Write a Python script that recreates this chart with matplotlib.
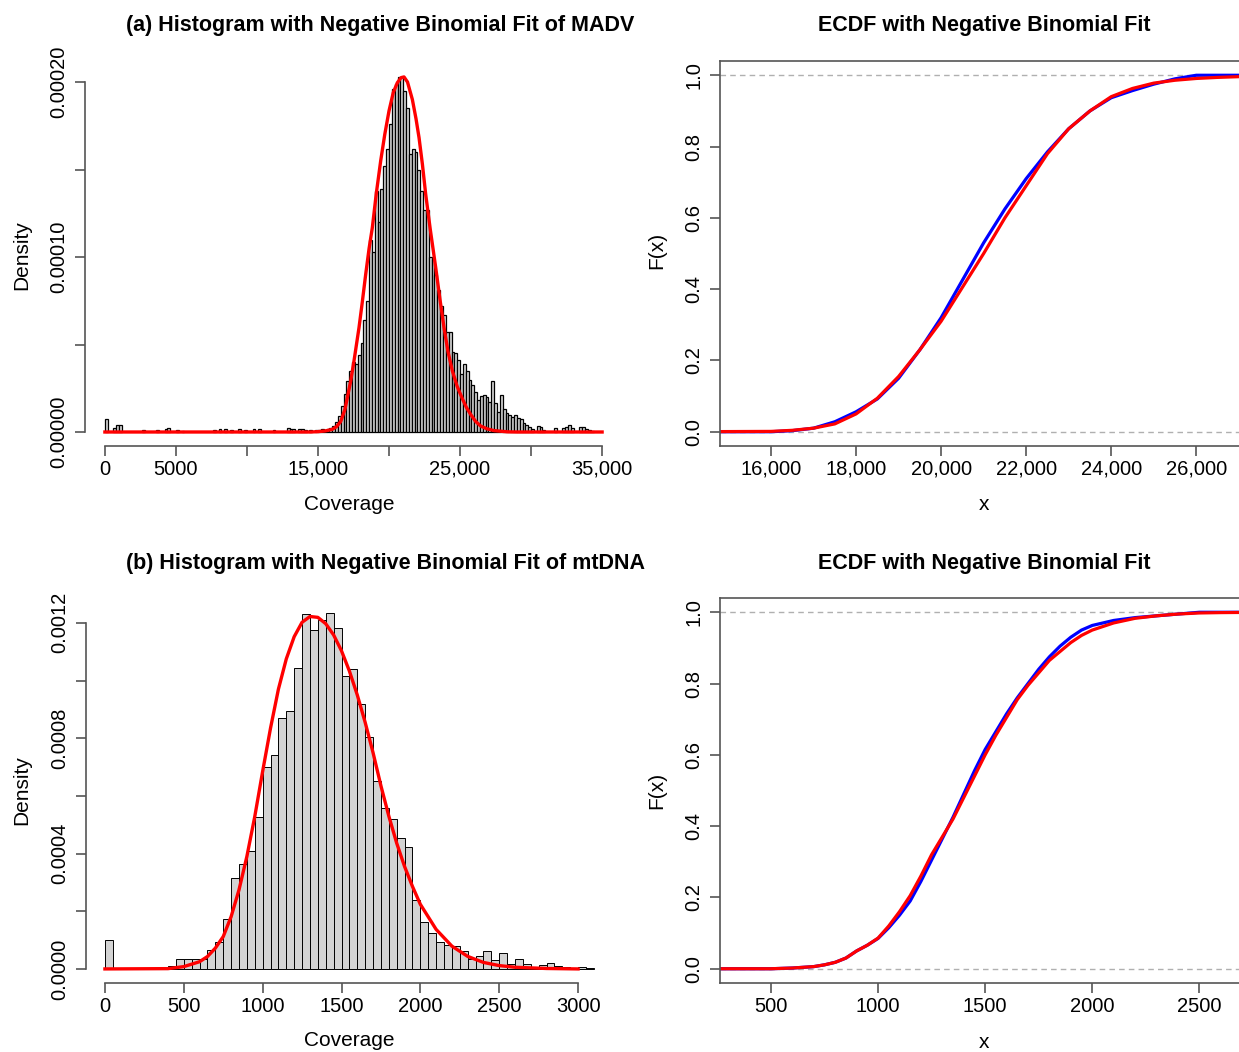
import numpy as np
import matplotlib.pyplot as plt

plt.rcParams['font.family'] = ['Liberation Sans', 'DejaVu Sans']

# ---- (a) MADV coverage: histogram bins (left edge, width 200) that are not empty
madv_bin_width = 200
madv_bin_left = [0, 600, 800, 1000, 2600, 3600, 4200, 4400, 5000, 5400,
                 7600, 8000, 8400, 8800, 9400, 9800, 10400, 10800, 11800,
                 12800, 13000, 13200, 13600, 13800, 14000, 14400, 14800,
                 15000, 15200, 15400, 15600, 15800, 16000, 16200, 16400, 16600, 16800,
                 17000, 17200, 17400, 17600, 17800, 18000, 18200, 18400, 18600, 18800,
                 19000, 19200, 19400, 19600, 19800, 20000, 20200, 20400, 20600, 20800,
                 21000, 21200, 21400, 21600, 21800, 22000, 22200, 22400, 22600, 22800,
                 23000, 23200, 23400, 23600, 23800, 24000, 24200, 24400, 24600, 24800,
                 25000, 25200, 25400, 25600, 25800, 26000, 26200, 26400, 26600, 26800,
                 27000, 27200, 27400, 27600, 27800, 28000, 28200, 28400, 28600, 28800,
                 29000, 29200, 29400, 29600, 29800, 30000, 30400, 30600, 30800,
                 31600, 32200, 32400, 32600, 32800, 33400, 33600, 33800, 34000, 34200]
madv_density = [7.4e-6, 2.5e-6, 3.8e-6, 4.2e-6, 1.0e-6, 1.0e-6, 2.0e-6, 2.5e-6, 1.0e-6, 0.8e-6,
                1.0e-6, 1.5e-6, 1.5e-6, 1.0e-6, 1.9e-6, 1.0e-6, 1.5e-6, 1.9e-6, 1.0e-6,
                2.5e-6, 1.5e-6, 1.7e-6, 1.9e-6, 1.5e-6, 1.2e-6, 1.0e-6, 1.0e-6,
                1.0e-6, 1.5e-6, 1.0e-6, 2.0e-6, 2.5e-6, 3.5e-6, 5.5e-6, 9.0e-6, 1.5e-5, 2.2e-5,
                2.9e-5, 3.5e-5, 4.0e-5, 3.9e-5, 4.4e-5, 5.1e-5, 6.4e-5, 7.5e-5, 1.10e-4, 1.03e-4,
                1.38e-4, 1.20e-4, 1.39e-4, 1.52e-4, 1.62e-4, 1.76e-4, 1.96e-4, 1.99e-4, 2.03e-4, 2.03e-4,
                1.95e-4, 1.85e-4, 1.59e-4, 1.62e-4, 1.60e-4, 1.50e-4, 1.38e-4, 1.27e-4, 1.27e-4, 1.00e-4,
                9.9e-5, 9.0e-5, 8.1e-5, 7.2e-5, 6.7e-5, 5.7e-5, 5.7e-5, 4.6e-5, 4.5e-5, 4.1e-5,
                3.3e-5, 3.9e-5, 3.5e-5, 3.0e-5, 2.7e-5, 2.3e-5, 1.83e-5, 2.06e-5, 2.1e-5, 2.0e-5,
                1.7e-5, 2.9e-5, 1.64e-5, 1.16e-5, 2.1e-5, 1.3e-5, 1.07e-5, 9.7e-6, 8.8e-6, 9.9e-6,
                7.8e-6, 7.2e-6, 5.0e-6, 4.2e-6, 3.0e-6, 1.9e-6, 3.4e-6, 3.0e-6, 1.0e-6,
                2.1e-6, 2.1e-6, 2.7e-6, 4.0e-6, 2.1e-6, 2.7e-6, 2.7e-6, 1.9e-6, 1.1e-6, 0.5e-6]

# fitted negative binomial density
madv_fit_x = [0, 14500, 15000, 15500, 16000, 16300, 16600, 16900, 17100, 17300, 17535, 17887,
              18100, 18357, 18600, 18826, 19100, 19413, 19700, 20000, 20300, 20587, 20850,
              21056, 21300, 21643, 21900, 22113, 22350, 22582, 22900, 23286, 23600, 23873,
              24150, 24460, 24800, 25164, 25450, 25751, 26100, 26455, 26900, 27394, 28333,
              29000, 35000]
madv_fit_y = [0, 0, 2e-7, 6e-7, 1.5e-6, 3e-6, 6e-6, 1.3e-5, 2.1e-5, 2.9e-5, 4.06e-5, 5.96e-5,
              7.3e-5, 9.0e-5, 1.05e-4, 1.168e-4, 1.36e-4, 1.549e-4, 1.70e-4, 1.835e-4, 1.94e-4,
              1.996e-4, 2.025e-4, 2.029e-4, 2.0e-4, 1.90e-4, 1.79e-4, 1.682e-4, 1.53e-4, 1.358e-4,
              1.16e-4, 9.4e-5, 7.5e-5, 5.96e-5, 4.6e-5, 3.49e-5, 2.6e-5, 1.9e-5, 1.4e-5, 1.0e-5,
              6.0e-6, 3.4e-6, 1.8e-6, 8e-7, 1e-7, 0, 0]

# ECDF (blue) and fitted CDF (red), MADV
madv_ecdf_x = [14000, 16000, 16500, 17000, 17500, 18000, 18500, 19000, 19500, 20000, 20500,
               21000, 21500, 22000, 22500, 23000, 23500, 24000, 24500, 25000, 25500, 26000, 28000]
madv_ecdf_y = [0, 0.0, 0.003, 0.01, 0.028, 0.056, 0.092, 0.15, 0.23, 0.32, 0.425,
               0.53, 0.625, 0.71, 0.785, 0.85, 0.9, 0.937, 0.957, 0.975, 0.99, 1.0, 1.0]
madv_cdf_x = [14000, 16000, 16500, 17000, 17500, 18000, 18500, 19000, 19500, 20000, 20500,
              21000, 21500, 22000, 22500, 23000, 23500, 24000, 24500, 25000, 25500, 26000,
              26500, 27000, 28000]
madv_cdf_y = [0, 0.001, 0.004, 0.01, 0.022, 0.05, 0.094, 0.155, 0.23, 0.31, 0.405,
              0.5, 0.6, 0.69, 0.78, 0.85, 0.9, 0.94, 0.963, 0.978, 0.986, 0.991,
              0.994, 0.996, 0.998]

# ---- (b) mtDNA coverage: histogram bins of width 50
mt_bin_width = 50
mt_bin_left = [0, 400, 450, 500, 550, 600, 650, 700, 750, 800, 850, 900, 950,
               1000, 1050, 1100, 1150, 1200, 1250, 1300, 1350, 1400, 1450, 1500, 1550,
               1600, 1650, 1700, 1750, 1800, 1850, 1900, 1950, 2000, 2050, 2100, 2150,
               2200, 2250, 2300, 2350, 2400, 2450, 2500, 2550, 2600, 2650, 2700, 2750,
               2800, 2850, 2900, 2950, 3000, 3050]
mt_density = [1.01e-4, 1.16e-5, 3.58e-5, 3.47e-5, 3.58e-5, 3.35e-5, 6.59e-5, 9.48e-5, 1.72e-4,
              3.14e-4, 3.65e-4, 4.08e-4, 5.28e-4,
              6.99e-4, 7.41e-4, 8.70e-4, 8.94e-4, 1.044e-3, 1.231e-3, 1.175e-3, 1.21e-3, 1.233e-3,
              1.183e-3, 1.016e-3, 1.04e-3,
              9.17e-4, 8.05e-4, 6.52e-4, 5.57e-4, 5.20e-4, 4.55e-4, 4.24e-4, 2.39e-4, 1.63e-4,
              1.24e-4, 9.48e-5, 8.32e-5,
              8.09e-5, 6.36e-5, 3.47e-5, 4.62e-5, 6.36e-5, 3.12e-5, 5.66e-5, 1.62e-5, 3.35e-5,
              1.62e-5, 8.1e-6, 1.39e-5,
              2.2e-5, 1.16e-5, 5.8e-6, 3.5e-6, 5.8e-6, 2.3e-6]

mt_fit_x = [0, 400, 500, 600, 650, 700, 750, 800, 850, 900, 950, 1000, 1050, 1100, 1150,
            1200, 1250, 1300, 1350, 1400, 1450, 1500, 1550, 1600, 1650, 1700, 1750, 1800,
            1850, 1900, 1950, 2000, 2100, 2200, 2300, 2400, 2500, 2600, 2800, 3000]
mt_fit_y = [0, 1e-6, 8e-6, 2.5e-5, 4.3e-5, 7.2e-5, 1.12e-4, 1.81e-4, 2.74e-4, 3.9e-4, 5.28e-4,
            6.85e-4, 8.35e-4, 9.7e-4, 1.075e-3, 1.152e-3, 1.202e-3, 1.222e-3, 1.219e-3, 1.197e-3,
            1.158e-3, 1.103e-3, 1.033e-3, 9.5e-4, 8.55e-4, 7.5e-4, 6.35e-4, 5.3e-4, 4.36e-4,
            3.55e-4, 2.86e-4, 2.24e-4, 1.37e-4, 7.9e-5, 4.35e-5, 2.25e-5, 1.16e-5, 5.8e-6, 1.5e-6, 0]

mt_ecdf_x = [200, 500, 600, 700, 750, 800, 850, 900, 950, 1000, 1050, 1100, 1150, 1200, 1250,
             1300, 1350, 1400, 1450, 1500, 1550, 1600, 1650, 1700, 1750, 1800, 1850, 1900,
             1950, 2000, 2100, 2200, 2300, 2400, 2500, 2800]
mt_ecdf_y = [0, 0.0, 0.002, 0.006, 0.011, 0.018, 0.03, 0.05, 0.066, 0.085, 0.115, 0.15, 0.19,
             0.245, 0.305, 0.365, 0.425, 0.49, 0.555, 0.615, 0.665, 0.715, 0.76, 0.8, 0.84,
             0.875, 0.905, 0.93, 0.95, 0.963, 0.977, 0.985, 0.99, 0.995, 1.0, 1.0]
mt_cdf_x = [200, 500, 600, 700, 750, 800, 850, 900, 950, 1000, 1050, 1100, 1150, 1200, 1250,
            1300, 1350, 1400, 1450, 1500, 1550, 1600, 1650, 1700, 1750, 1800, 1850, 1900,
            1950, 2000, 2100, 2200, 2300, 2400, 2500, 2600, 2800]
mt_cdf_y = [0, 0.0, 0.002, 0.006, 0.011, 0.018, 0.03, 0.05, 0.066, 0.086, 0.12, 0.16, 0.205,
            0.26, 0.32, 0.37, 0.42, 0.48, 0.54, 0.6, 0.655, 0.705, 0.755, 0.795, 0.83,
            0.865, 0.89, 0.915, 0.935, 0.95, 0.97, 0.983, 0.99, 0.995, 0.998, 0.999, 1.0]

W, H = 1239, 1052
AXCOL = '#555555'
fig = plt.figure(figsize=(W / 100, H / 100), dpi=100)


def px_axes(l, t, r, b):
    return fig.add_axes([l / W, 1 - b / H, (r - l) / W, (b - t) / H])


def style_axis(ax, yticks, ylabels, xticks, xlabels):
    ax.set_yticks(yticks)
    ax.set_yticklabels(ylabels)
    ax.set_xticks(xticks)
    ax.set_xticklabels(xlabels)
    ax.tick_params(axis='both', direction='out', length=7, width=1.2, color=AXCOL,
                   labelsize=14.5)
    ax.tick_params(axis='x', pad=3)
    ax.tick_params(axis='y', pad=5)
    for lab in ax.get_yticklabels():
        lab.set_rotation(90)
        lab.set_va('center')
    for s in ax.spines.values():
        s.set_color(AXCOL)
        s.set_linewidth(1.2)


def hist_panel(ax, left, dens, width, fit_x, fit_y, xlim, ylim,
               yticks, ylabels, xticks, xlabels, edge_lw):
    ax.bar(left, dens, width=width, align='edge', color='#d3d3d3',
           edgecolor='black', linewidth=edge_lw)
    ax.plot(fit_x, fit_y, color='red', lw=2.4, solid_joinstyle='round')
    ax.set_xlim(xlim)
    ax.set_ylim(ylim)
    style_axis(ax, yticks, ylabels, xticks, xlabels)
    ax.spines['top'].set_visible(False)
    ax.spines['right'].set_visible(False)
    ax.spines['left'].set_bounds(yticks[0], yticks[-1])
    ax.spines['bottom'].set_bounds(xticks[0], xticks[-1])


def ecdf_panel(ax, ex, ey, cx, cy, xlim, xticks, xlabels):
    ax.axhline(0, color='#b0b0b0', ls=(0, (4, 3)), lw=1)
    ax.axhline(1, color='#b0b0b0', ls=(0, (4, 3)), lw=1)
    ax.plot(ex, ey, color='blue', lw=2.3, solid_joinstyle='round')
    ax.plot(cx, cy, color='red', lw=2.3, solid_joinstyle='round')
    ax.set_xlim(xlim)
    ax.set_ylim(-0.04, 1.04)
    style_axis(ax, [0, 0.2, 0.4, 0.6, 0.8, 1.0],
               ['0.0', '0.2', '0.4', '0.6', '0.8', '1.0'], xticks, xlabels)


# (a) histogram MADV
ax1 = px_axes(85, 68, 622, 446)
hist_panel(ax1, madv_bin_left, madv_density, madv_bin_width, madv_fit_x, madv_fit_y,
           (-1400, 36400), (-0.000008, 0.000208),
           [0, 0.00005, 0.0001, 0.00015, 0.0002], ['0.00000', '', '0.00010', '', '0.00020'],
           [0, 5000, 10000, 15000, 20000, 25000, 30000, 35000],
           ['0', '5000', '', '15,000', '', '25,000', '', '35,000'], 0.9)

# ECDF MADV
ax2 = px_axes(720, 61, 1252, 446)
ecdf_panel(ax2, madv_ecdf_x, madv_ecdf_y, madv_cdf_x, madv_cdf_y, (14800, 27310),
           [16000, 18000, 20000, 22000, 24000, 26000],
           ['16,000', '18,000', '20,000', '22,000', '24,000', '26,000'])

# (b) histogram mtDNA
ax3 = px_axes(86, 603, 597, 983)
hist_panel(ax3, mt_bin_left, mt_density, mt_bin_width, mt_fit_x, mt_fit_y,
           (-120, 3120), (-0.0000488, 0.0012688),
           [0, 0.0002, 0.0004, 0.0006, 0.0008, 0.001, 0.0012],
           ['0.0000', '', '0.0004', '', '0.0008', '', '0.0012'],
           [0, 500, 1000, 1500, 2000, 2500, 3000],
           ['0', '500', '1000', '1500', '2000', '2500', '3000'], 0.7)

# ECDF mtDNA
ax4 = px_axes(720, 598, 1252, 983)
ecdf_panel(ax4, mt_ecdf_x, mt_ecdf_y, mt_cdf_x, mt_cdf_y, (262, 2746),
           [500, 1000, 1500, 2000, 2500], ['500', '1000', '1500', '2000', '2500'])


def ftext(x, y, s, **kw):
    fig.text(x / W, 1 - y / H, s, ha='center', va='center', **kw)


ftext(380, 25, '(a) Histogram with Negative Binomial Fit of MADV', fontsize=15.5, fontweight='bold')
ftext(984, 26, 'ECDF with Negative Binomial Fit', fontsize=15.5, fontweight='bold')
ftext(385, 563, '(b) Histogram with Negative Binomial Fit of mtDNA', fontsize=15.5, fontweight='bold')
ftext(984, 563, 'ECDF with Negative Binomial Fit', fontsize=15.5, fontweight='bold')

for yy in (255, 790):
    ftext(22, yy, 'Density', fontsize=15, rotation=90)
for yy in (250, 790):
    ftext(657, yy, 'F(x)', fontsize=15, rotation=90)
ftext(349, 504, 'Coverage', fontsize=15)
ftext(349, 1041, 'Coverage', fontsize=15)
ftext(984, 505, 'x', fontsize=15)
ftext(984, 1043, 'x', fontsize=15)

fig.savefig('out.png', dpi=100)
